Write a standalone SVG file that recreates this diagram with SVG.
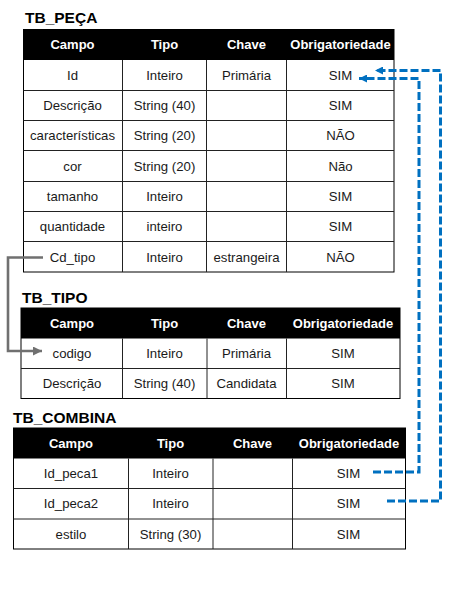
<svg xmlns="http://www.w3.org/2000/svg" width="458" height="598" viewBox="0 0 458 598">
<style>
.title{font-family:"Liberation Sans",Arial,sans-serif;font-weight:bold;font-size:15.5px;fill:#000}
.hd{fill:#000}
.ht{font-family:"Liberation Sans",Arial,sans-serif;font-weight:bold;font-size:13px;fill:#fff;text-anchor:middle}
.t{font-family:"Liberation Sans",Arial,sans-serif;font-size:13.2px;fill:#1a1a1a;text-anchor:middle}
.cell{fill:#fff;stroke:#000;stroke-width:1}
.grid{stroke:#222;stroke-width:1;fill:none}
.blue{fill:none;stroke:#0070C0;stroke-width:3;stroke-dasharray:8 3}
.gray{fill:none;stroke:#707070;stroke-width:2.6}
</style>
<defs>
<marker id="ab" viewBox="0 0 10 10" refX="10" refY="5" markerWidth="9" markerHeight="8" markerUnits="userSpaceOnUse" orient="auto">
<path d="M0,0 L10,5 L0,10 z" fill="#0070C0"/>
</marker>
<marker id="ag" viewBox="0 0 10 10" refX="10" refY="5" markerWidth="10" markerHeight="9" markerUnits="userSpaceOnUse" orient="auto">
<path d="M0,0 L10,5 L0,10 z" fill="#707070"/>
</marker>
</defs>
<rect width="458" height="598" fill="#fff"/>

<g id="tb_peca">
<text class="title" x="25" y="23">TB_PEÇA</text>
<rect class="cell" x="23.5" y="29.5" width="370.5" height="242.5"/>
<rect class="hd" x="23.5" y="29.5" width="370.5" height="30.5"/>
<path class="grid" d="M23.5,90.5H394M23.5,120.5H394M23.5,150.5H394M23.5,181.5H394M23.5,211.5H394M23.5,241.5H394M122.5,60V272M206.5,60V272M286.5,60V272"/>
<text class="ht" x="72.5" y="49">Campo</text>
<text class="ht" x="164.5" y="49">Tipo</text>
<text class="ht" x="246.5" y="49">Chave</text>
<text class="ht" x="340.5" y="49">Obrigatoriedade</text>
<text class="t" x="72.5" y="79.5">Id</text><text class="t" x="164.5" y="79.5">Inteiro</text><text class="t" x="246.5" y="79.5">Primária</text><text class="t" x="340.5" y="79.5">SIM</text>
<text class="t" x="72.5" y="110">Descrição</text><text class="t" x="164.5" y="110">String (40)</text><text class="t" x="340.5" y="110">SIM</text>
<text class="t" x="72.5" y="140">características</text><text class="t" x="164.5" y="140">String (20)</text><text class="t" x="340.5" y="140">NÃO</text>
<text class="t" x="72.5" y="170.5">cor</text><text class="t" x="164.5" y="170.5">String (20)</text><text class="t" x="340.5" y="170.5">Não</text>
<text class="t" x="72.5" y="201">tamanho</text><text class="t" x="164.5" y="201">Inteiro</text><text class="t" x="340.5" y="201">SIM</text>
<text class="t" x="72.5" y="231">quantidade</text><text class="t" x="164.5" y="231">inteiro</text><text class="t" x="340.5" y="231">SIM</text>
<text class="t" x="72.5" y="261.5">Cd_tipo</text><text class="t" x="164.5" y="261.5">Inteiro</text><text class="t" x="246.5" y="261.5">estrangeira</text><text class="t" x="340.5" y="261.5">NÃO</text>
</g>

<g id="tb_tipo">
<text class="title" x="22" y="303">TB_TIPO</text>
<rect class="cell" x="21" y="308" width="379" height="90.5"/>
<rect class="hd" x="21" y="308" width="379" height="30.5"/>
<path class="grid" d="M21,368.5H400M122.5,338.5V398.5M207,338.5V398.5M286.5,338.5V398.5"/>
<text class="ht" x="72" y="328">Campo</text>
<text class="ht" x="164.5" y="328">Tipo</text>
<text class="ht" x="246.5" y="328">Chave</text>
<text class="ht" x="343" y="328">Obrigatoriedade</text>
<text class="t" x="72" y="357.5">codigo</text><text class="t" x="164.5" y="357.5">Inteiro</text><text class="t" x="246.5" y="357.5">Primária</text><text class="t" x="343" y="357.5">SIM</text>
<text class="t" x="72" y="387.5">Descrição</text><text class="t" x="164.5" y="387.5">String (40)</text><text class="t" x="246.5" y="387.5">Candidata</text><text class="t" x="343" y="387.5">SIM</text>
</g>

<g id="tb_combina">
<text class="title" x="13" y="423">TB_COMBINA</text>
<rect class="cell" x="13.5" y="428" width="392" height="121"/>
<rect class="hd" x="13.5" y="428" width="392" height="30.5"/>
<path class="grid" d="M13.5,488.5H405.5M13.5,519H405.5M128.5,458.5V549M213,458.5V549M292.5,458.5V549"/>
<text class="ht" x="71" y="448">Campo</text>
<text class="ht" x="170.5" y="448">Tipo</text>
<text class="ht" x="252.5" y="448">Chave</text>
<text class="ht" x="349" y="448">Obrigatoriedade</text>
<text class="t" x="71" y="477.5">Id_peca1</text><text class="t" x="170.5" y="477.5">Inteiro</text><text class="t" x="348.5" y="477.5">SIM</text>
<text class="t" x="71" y="508">Id_peca2</text><text class="t" x="170.5" y="508">Inteiro</text><text class="t" x="348.5" y="508">SIM</text>
<text class="t" x="71" y="538.5">estilo</text><text class="t" x="170.5" y="538.5">String (30)</text><text class="t" x="348.5" y="538.5">SIM</text>
</g>

<g id="connectors">
<path class="gray" d="M43,257.5H8V351H42" marker-end="url(#ag)"/>
<path class="blue" d="M373,472H419V78.5H359" marker-end="url(#ab)"/>
<path class="blue" d="M387,501H440.5V70.5H375" marker-end="url(#ab)"/>
</g>
</svg>
